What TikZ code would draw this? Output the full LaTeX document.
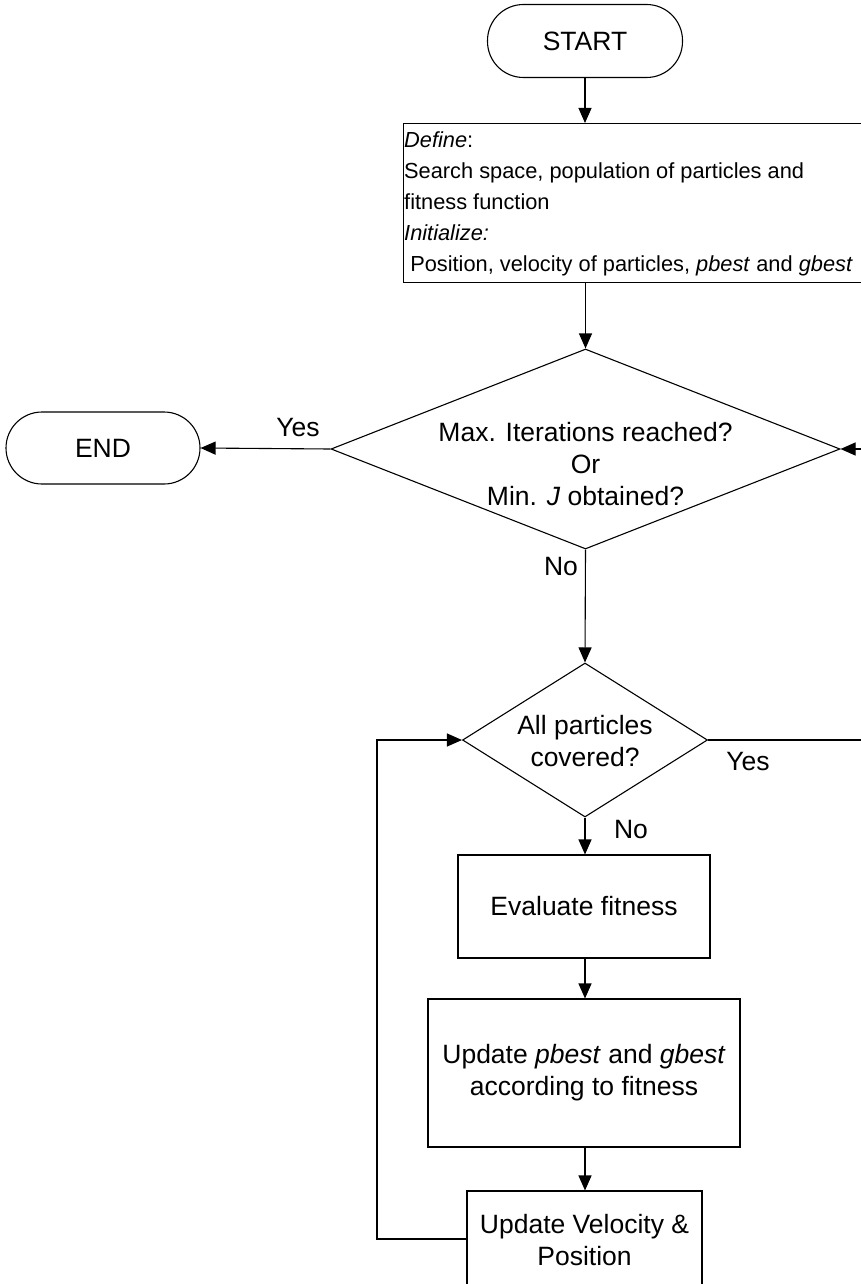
\documentclass[tikz,border=0pt]{standalone}
\usepackage{fontspec}
\setmainfont{Liberation Sans}
\usetikzlibrary{shapes.geometric,arrows.meta}
\begin{document}
\begin{tikzpicture}[x=1pt,y=-1pt,
  every node/.style={font=\fontsize{26.5}{32}\selectfont},
  line/.style={draw=black,line width=1.1pt},
  arr/.style={line,-{Triangle[length=15pt,width=13pt]}},
  term/.style={draw,line width=1.1pt,rectangle,rounded corners=36pt,inner sep=0pt},
  box/.style={draw,line width=1.1pt,rectangle,inner sep=0pt,align=center},
  dia/.style={draw,line width=1.1pt,diamond,inner sep=0pt},
  txt/.style={inner sep=0pt,align=center}]
\useasboundingbox (0,0) rectangle (861,1284);
\clip (0,0) rectangle (861,1284);
\fill[white] (0,0) rectangle (861,1284);
% terminals
\node[term,minimum width=195pt,minimum height=73pt] (start) at (585,41) {START};
\node[term,minimum width=194pt,minimum height=72pt] (end) at (103,448) {END};
% define box
\node[box,anchor=north west,minimum width=520pt,minimum height=159pt] (def) at (403,123) {};
\node[txt,anchor=north west,align=left,font=\fontsize{21.8}{30.8}\selectfont] (deftext) at (404,132)
  {\textit{Define}:\\
   Search space, population of particles and\\
   fitness function\\
   \textit{Initialize:}\\
   \ Position, velocity of particles, \textit{pbest} and \textit{gbest}};
% decision 1
\node[dia,minimum width=509pt,minimum height=200pt] (d1) at (585.5,449) {};
\node[txt] (d1text) at (585.5,464) {Max. Iterations reached?\\Or\\Min. \textit{J} obtained?};
% decision 2
\node[dia,minimum width=245pt,minimum height=154pt] (d2) at (585,740) {};
\node[txt] (d2text) at (585,741) {All particles\\covered?};
% process boxes
\node[box,minimum width=252pt,minimum height=103pt] (eval) at (584,906.5) {Evaluate fitness};
\node[box,minimum width=312pt,minimum height=148pt] (upd) at (584,1073) {Update \textit{pbest} and \textit{gbest}\\according to fitness};
\node[box,minimum width=235pt,minimum height=98pt] (vel) at (584.5,1240) {Update Velocity \&\\Position};
% labels
\node[txt] (yes1) at (298,428) {Yes};
\node[txt] (no1) at (561,567) {No};
\node[txt] (yes2) at (748,762) {Yes};
\node[txt] (no2) at (631,830) {No};
% connectors
\coordinate (r2) at (880,740);
\coordinate (r1) at (880,449);
\coordinate (l1) at (377,1239);
\coordinate (l2) at (377,740);
\draw[arr] (start.south) -- (start.south |- def.north);
\draw[arr] (d1.north |- def.south) -- (d1.north);
\draw[arr] (d1.west) -- (end.east);
\draw[arr] (d1.south) -- (d2.north);
\draw[arr] (d2.east) -- (r2) -- (r1) -- (d1.east);
\draw[arr] (d2.south) -- (d2.south |- eval.north);
\draw[arr] (d2.south |- eval.south) -- (d2.south |- upd.north);
\draw[arr] (d2.south |- upd.south) -- (d2.south |- vel.north);
\draw[arr] (vel.west |- l1) -- (l1) -- (l2) -- (d2.west);
\end{tikzpicture}
\end{document}
